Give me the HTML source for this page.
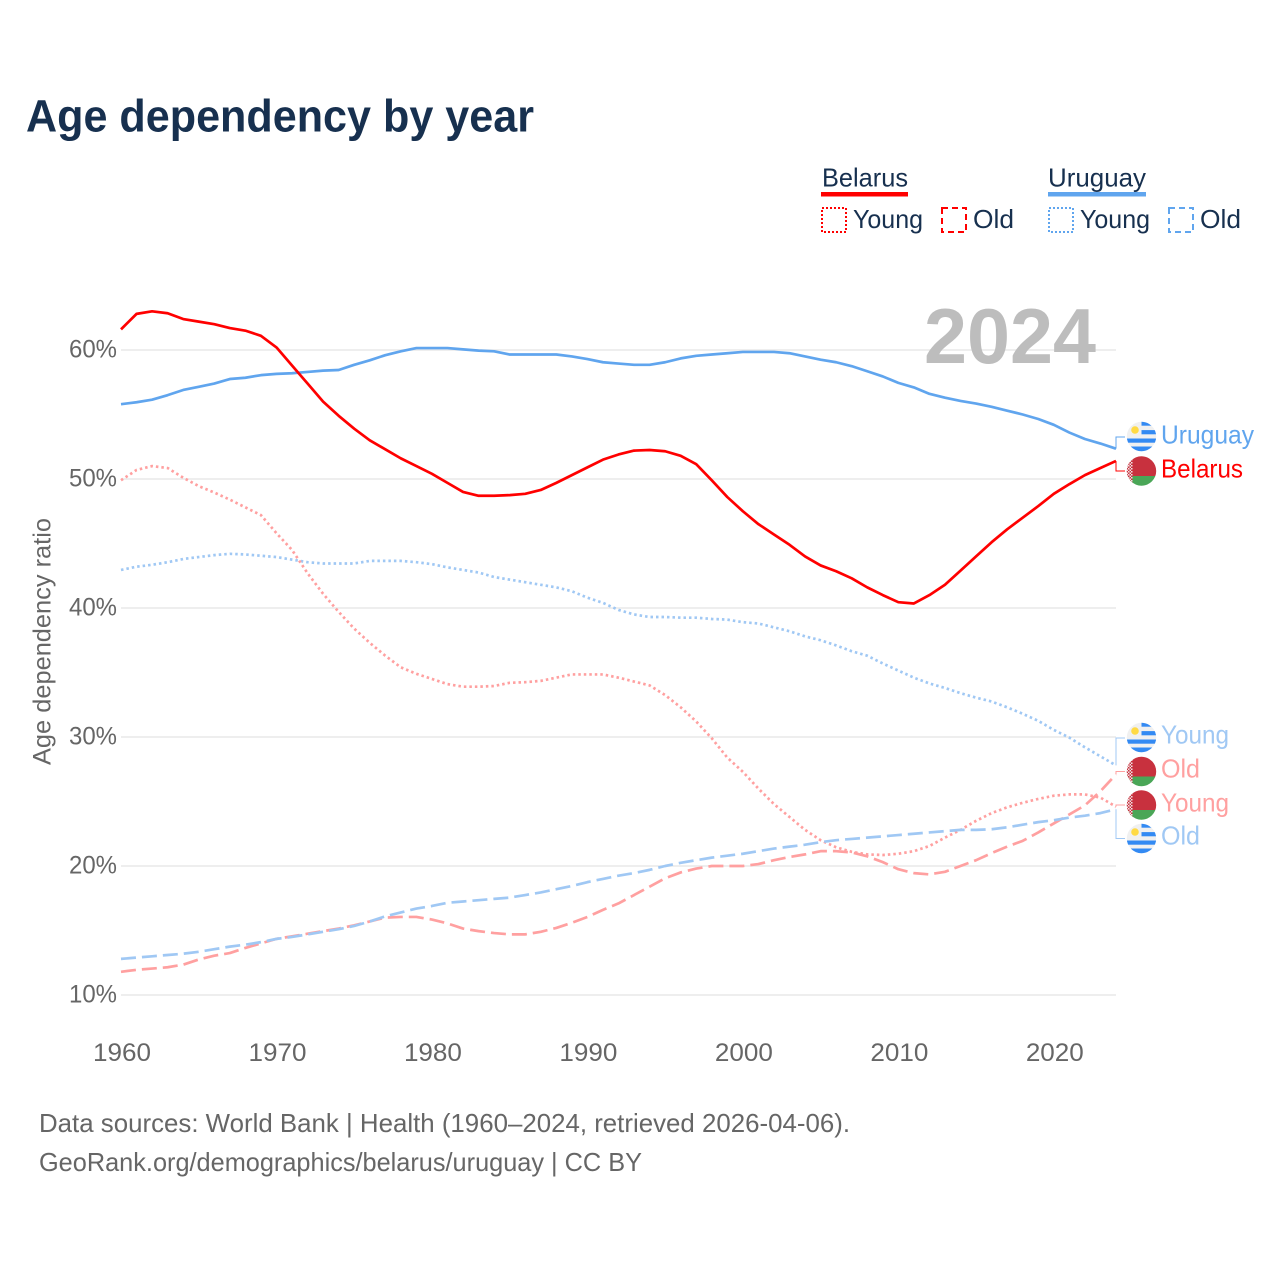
<!DOCTYPE html>
<html lang="en">
<head>
<meta charset="utf-8">
<title>Age dependency by year</title>
<style>
html,body{margin:0;padding:0;background:#fff;}
svg{display:block;font-family:"Liberation Sans",sans-serif;}
</style>
</head>
<body>
<svg id="chart" width="1280" height="1280" viewBox="0 0 1280 1280" xmlns="http://www.w3.org/2000/svg">
<defs>
  <clipPath id="flag-clip"><circle cx="0" cy="0" r="14.7"/></clipPath>
  <pattern id="by-ornament" width="3" height="3" patternUnits="userSpaceOnUse">
    <rect width="3" height="3" fill="#f0e4e4"/>
    <rect width="1.5" height="1.5" fill="#c8313e"/>
    <rect x="1.5" y="1.5" width="1.5" height="1.5" fill="#c8313e"/>
  </pattern>
  <symbol id="flag-by" viewBox="-15 -15 30 30" overflow="visible">
    <g clip-path="url(#flag-clip)">
      <rect x="-15" y="-15" width="30" height="20" fill="#c8313e"/>
      <rect x="-15" y="5" width="30" height="10" fill="#4aa657"/>
      <rect x="-15" y="-15" width="6" height="30" fill="url(#by-ornament)"/>
    </g>
  </symbol>
  <symbol id="flag-uy" viewBox="-15 -15 30 30" overflow="visible">
    <g clip-path="url(#flag-clip)">
      <rect x="-15" y="-15" width="30" height="30" fill="#f0f0f0"/>
      <rect x="0" y="-15" width="15" height="4.2" fill="#338af3"/>
      <rect x="0" y="-6.4" width="15" height="4.2" fill="#338af3"/>
      <rect x="-15" y="2" width="30" height="4.2" fill="#338af3"/>
      <rect x="-15" y="10" width="30" height="5" fill="#338af3"/>
      <circle cx="-6.5" cy="-6.5" r="3.8" fill="#ffda44"/>
    </g>
  </symbol>
</defs>

<text x="26" y="131.5" font-size="45" font-weight="700" fill="#17304f" textLength="508" lengthAdjust="spacingAndGlyphs">Age dependency by year</text>

<g>
  <text x="822" y="186.5" font-size="26" fill="#17304f" textLength="86" lengthAdjust="spacingAndGlyphs">Belarus</text>
  <rect x="821" y="192" width="87" height="4.5" fill="#ff0000"/>
  <rect x="822" y="208" width="24" height="24" fill="none" stroke="#ff0000" stroke-width="2" stroke-dasharray="2 2"/>
  <text x="853" y="228" font-size="26" fill="#17304f" textLength="70" lengthAdjust="spacingAndGlyphs">Young</text>
  <rect x="942" y="208" width="24" height="24" fill="none" stroke="#ff0000" stroke-width="2" stroke-dasharray="6 4"/>
  <text x="973" y="228" font-size="26" fill="#17304f" textLength="41" lengthAdjust="spacingAndGlyphs">Old</text>
  <text x="1048" y="186.5" font-size="26" fill="#17304f" textLength="98" lengthAdjust="spacingAndGlyphs">Uruguay</text>
  <rect x="1048" y="192" width="98" height="4.5" fill="#60a5ee"/>
  <rect x="1049" y="208" width="24" height="24" fill="none" stroke="#60a5ee" stroke-width="2" stroke-dasharray="2 2"/>
  <text x="1080" y="228" font-size="26" fill="#17304f" textLength="70" lengthAdjust="spacingAndGlyphs">Young</text>
  <rect x="1169" y="208" width="24" height="24" fill="none" stroke="#60a5ee" stroke-width="2" stroke-dasharray="6 4"/>
  <text x="1200" y="228" font-size="26" fill="#17304f" textLength="41" lengthAdjust="spacingAndGlyphs">Old</text>
</g>

<g id="grid"></g>
<g id="yticks"></g>
<g id="xticks"></g>

<text x="0" y="0" transform="translate(50.5,765) rotate(-90)" font-size="25" fill="#666" textLength="247" lengthAdjust="spacingAndGlyphs">Age dependency ratio</text>

<text x="924" y="363" font-size="78" font-weight="700" fill="#bdbdbd" textLength="172" lengthAdjust="spacingAndGlyphs">2024</text>

<g id="connectors"></g>
<g id="series"></g>

<g>
  <use href="#flag-uy" x="1126.5" y="421.5" width="30" height="30"/>
  <text x="1161" y="443.5" font-size="26" fill="#60a5ee" textLength="93" lengthAdjust="spacingAndGlyphs">Uruguay</text>
  <use href="#flag-by" x="1126.5" y="456" width="30" height="30"/>
  <text x="1161" y="477.5" font-size="26" fill="#ff0000" textLength="82" lengthAdjust="spacingAndGlyphs">Belarus</text>
  <use href="#flag-uy" x="1126.5" y="722.5" width="30" height="30"/>
  <text x="1161" y="743.5" font-size="26" fill="#a0c8f4" textLength="68" lengthAdjust="spacingAndGlyphs">Young</text>
  <use href="#flag-by" x="1126.5" y="756.5" width="30" height="30"/>
  <text x="1161" y="777.5" font-size="26" fill="#ffa0a0" textLength="39" lengthAdjust="spacingAndGlyphs">Old</text>
  <use href="#flag-by" x="1126.5" y="790" width="30" height="30"/>
  <text x="1161" y="811.5" font-size="26" fill="#ffa0a0" textLength="68" lengthAdjust="spacingAndGlyphs">Young</text>
  <use href="#flag-uy" x="1126.5" y="823.5" width="30" height="30"/>
  <text x="1161" y="844.5" font-size="26" fill="#a0c8f4" textLength="39" lengthAdjust="spacingAndGlyphs">Old</text>
</g>

<text x="39" y="1132" font-size="26" fill="#666" textLength="811" lengthAdjust="spacingAndGlyphs">Data sources: World Bank | Health (1960–2024, retrieved 2026-04-06).</text>
<text x="39" y="1171" font-size="26" fill="#666" textLength="603" lengthAdjust="spacingAndGlyphs">GeoRank.org/demographics/belarus/uruguay | CC BY</text>
</svg>

<script>
const startYear = 1960;
const xTickLabels = [1960, 1970, 1980, 1990, 2000, 2010, 2020];
const yTickValues = [10, 20, 30, 40, 50, 60];

const belarusTotal = [61.6,62.8,63.0,62.85,62.4,62.2,62.0,61.7,61.5,61.1,60.2,58.8,57.4,56.0,54.9,53.9,53.0,52.3,51.6,51.0,50.4,49.7,49.0,48.7,48.7,48.75,48.85,49.15,49.7,50.3,50.9,51.5,51.9,52.2,52.25,52.15,51.8,51.15,49.9,48.6,47.5,46.5,45.7,44.9,44.0,43.3,42.85,42.3,41.6,41.0,40.45,40.35,41.0,41.8,42.9,44.0,45.1,46.1,47.0,47.9,48.85,49.6,50.3,50.85,51.4];
const uruguayTotal = [55.8,55.95,56.15,56.5,56.9,57.15,57.4,57.75,57.85,58.05,58.15,58.2,58.3,58.4,58.45,58.85,59.2,59.6,59.9,60.15,60.15,60.15,60.05,59.95,59.9,59.65,59.65,59.65,59.65,59.5,59.3,59.05,58.95,58.85,58.85,59.05,59.35,59.55,59.65,59.75,59.85,59.85,59.85,59.75,59.5,59.25,59.05,58.75,58.35,57.95,57.45,57.1,56.6,56.3,56.05,55.85,55.6,55.3,55.0,54.65,54.2,53.6,53.1,52.75,52.35];
const belarusYoung = [49.9,50.7,51.0,50.85,50.1,49.45,48.95,48.4,47.8,47.2,45.8,44.5,42.7,41.1,39.7,38.4,37.3,36.3,35.4,34.9,34.5,34.1,33.9,33.9,33.95,34.2,34.25,34.35,34.6,34.85,34.85,34.85,34.6,34.3,34.0,33.25,32.3,31.2,29.9,28.4,27.3,26.0,24.8,23.8,22.8,22.0,21.45,21.1,20.9,20.85,20.95,21.15,21.55,22.2,22.8,23.5,24.1,24.55,24.9,25.2,25.45,25.55,25.55,25.3,24.6];
const uruguayYoung = [42.95,43.2,43.35,43.55,43.8,43.95,44.1,44.2,44.15,44.05,43.95,43.75,43.55,43.45,43.45,43.45,43.65,43.65,43.65,43.55,43.4,43.15,42.95,42.75,42.4,42.2,42.0,41.8,41.6,41.3,40.8,40.4,39.85,39.5,39.3,39.3,39.25,39.25,39.15,39.1,38.9,38.8,38.5,38.2,37.8,37.5,37.1,36.65,36.3,35.7,35.15,34.6,34.15,33.8,33.4,33.05,32.75,32.3,31.8,31.25,30.55,29.95,29.2,28.5,27.8];
const belarusOld = [11.8,11.95,12.05,12.15,12.35,12.75,13.05,13.25,13.65,14.0,14.35,14.55,14.75,14.95,15.15,15.4,15.7,16.0,16.05,16.05,15.85,15.55,15.15,14.95,14.8,14.7,14.7,14.9,15.2,15.6,16.05,16.6,17.1,17.75,18.4,19.05,19.5,19.8,20.0,20.0,20.0,20.15,20.45,20.7,20.9,21.15,21.15,21.05,20.75,20.3,19.75,19.45,19.35,19.55,20.0,20.45,21.0,21.5,21.95,22.6,23.3,24.0,24.7,25.8,27.1];
const uruguayOld = [12.8,12.9,13.0,13.1,13.2,13.35,13.55,13.75,13.9,14.1,14.35,14.5,14.7,14.9,15.1,15.35,15.7,16.1,16.4,16.7,16.9,17.15,17.25,17.35,17.45,17.55,17.75,17.95,18.2,18.45,18.75,19.0,19.25,19.45,19.7,20.0,20.25,20.45,20.65,20.8,20.95,21.15,21.35,21.5,21.65,21.85,22.0,22.1,22.2,22.3,22.4,22.5,22.6,22.7,22.8,22.8,22.85,23.0,23.2,23.4,23.55,23.75,23.9,24.1,24.4];

const NS = 'http://www.w3.org/2000/svg';
function xScale(year) { return 121 + (year - 1960) * (995 / 64); }
function yScale(pct) { return 995 - (pct - 10) * 12.9; }

const gridGroup = document.getElementById('grid');
const yTickGroup = document.getElementById('yticks');
const xTickGroup = document.getElementById('xticks');
const seriesGroup = document.getElementById('series');
const connectorGroup = document.getElementById('connectors');

yTickValues.forEach(function (v) {
  const line = document.createElementNS(NS, 'line');
  line.setAttribute('x1', 121);
  line.setAttribute('x2', 1116);
  line.setAttribute('y1', yScale(v));
  line.setAttribute('y2', yScale(v));
  line.setAttribute('stroke', '#e8e8e8');
  line.setAttribute('stroke-width', 1.5);
  
  
  gridGroup.appendChild(line);

  const label = document.createElementNS(NS, 'text');
  label.setAttribute('x', 69);
  label.setAttribute('y', yScale(v) + 7.5);
  label.setAttribute('font-size', 25);
  label.setAttribute('fill', '#666');
  label.setAttribute('textLength', 48);
  label.setAttribute('lengthAdjust', 'spacingAndGlyphs');
  label.textContent = v + '%';
  
  
  yTickGroup.appendChild(label);
});

xTickLabels.forEach(function (year) {
  const label = document.createElementNS(NS, 'text');
  label.setAttribute('x', xScale(year) - 28);
  label.setAttribute('y', 1061);
  label.setAttribute('font-size', 25);
  label.setAttribute('fill', '#666');
  label.setAttribute('textLength', 58);
  label.setAttribute('lengthAdjust', 'spacingAndGlyphs');
  label.textContent = year;
  
  
  xTickGroup.appendChild(label);
});

function drawSeries(values, color, width, dash, name) {
  const d = values.map(function (v, i) {
    return (i ? 'L' : 'M') + xScale(startYear + i).toFixed(2) + ' ' + yScale(v).toFixed(2);
  }).join(' ');
  const path = document.createElementNS(NS, 'path');
  path.setAttribute('d', d);
  path.setAttribute('fill', 'none');
  path.setAttribute('stroke', color);
  path.setAttribute('stroke-width', width);
  path.setAttribute('stroke-linejoin', 'round');
  if (dash) path.setAttribute('stroke-dasharray', dash);
  
  
  seriesGroup.appendChild(path);
}

function drawConnector(values, labelY, color, name) {
  const x = xScale(startYear + values.length - 1);
  const y = yScale(values[values.length - 1]);
  const path = document.createElementNS(NS, 'path');
  path.setAttribute('d', 'M' + x + ' ' + y + ' V' + labelY + ' H1125');
  path.setAttribute('fill', 'none');
  path.setAttribute('stroke', color);
  path.setAttribute('stroke-width', 1);
  
  
  connectorGroup.appendChild(path);
}

drawConnector(uruguayTotal, 437, '#60a5ee', 'connector-uruguay');
drawConnector(belarusTotal, 471, '#ff0000', 'connector-belarus');
drawConnector(uruguayYoung, 738, '#a0c8f4', 'connector-uruguay-young');
drawConnector(belarusOld, 771.5, '#ffa0a0', 'connector-belarus-old');
drawConnector(belarusYoung, 805, '#ffa0a0', 'connector-belarus-young');
drawConnector(uruguayOld, 838.5, '#a0c8f4', 'connector-uruguay-old');

drawSeries(uruguayYoung, '#a0c8f4', 2.7, '2.5 3', 'line-uruguay-young');
drawSeries(belarusYoung, '#ffa0a0', 2.7, '2.5 3', 'line-belarus-young');
drawSeries(belarusOld, '#ffa0a0', 2.7, '15 6', 'line-belarus-old');
drawSeries(uruguayOld, '#a0c8f4', 2.7, '15 6', 'line-uruguay-old');
drawSeries(uruguayTotal, '#60a5ee', 2.7, null, 'line-uruguay-total');
drawSeries(belarusTotal, '#ff0000', 2.7, null, 'line-belarus-total');
</script>
</body>
</html>
